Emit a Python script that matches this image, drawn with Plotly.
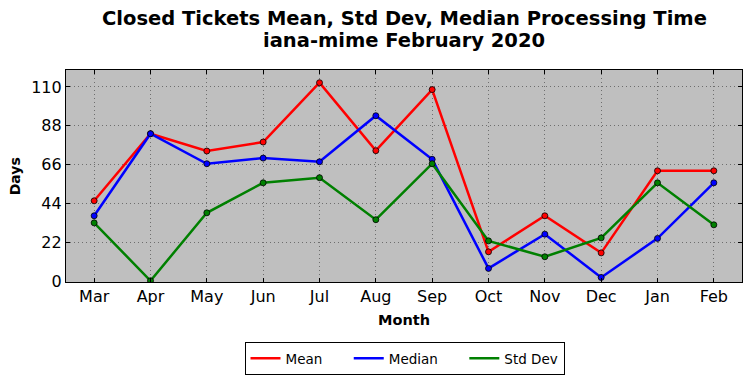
import plotly.graph_objects as go

months = ["Mar", "Apr", "May", "Jun", "Jul", "Aug", "Sep", "Oct", "Nov", "Dec", "Jan", "Feb"]
mean_vals = [45.5, 83.5, 73.7, 78.8, 112.4, 73.9, 108.5, 16.6, 37.0, 16.0, 62.5, 62.5]
median_vals = [37.0, 83.5, 66.5, 69.7, 67.6, 93.7, 69.0, 7.2, 26.6, 2.1, 24.2, 55.7]
std_vals = [33.0, 0.2, 38.7, 55.7, 58.6, 34.8, 66.5, 22.8, 13.8, 24.5, 55.7, 31.9]
y_ticks = [0, 22, 44, 66, 88, 110]

series = [("Mean", mean_vals, "red"), ("Median", median_vals, "blue"), ("Std Dev", std_vals, "green")]
pad = "\u00a0" * 5
legend_names = ["Mean" + pad, "Median" + pad, "Std Dev"]

fig = go.Figure()
x_idx = list(range(len(months)))
for name, vals, col in series:
    fig.add_trace(go.Scatter(
        x=x_idx, y=vals, name=name, mode="lines+markers", showlegend=False,
        line=dict(color=col, width=2.5),
        marker=dict(size=6, color=col, line=dict(color="black", width=0.8)),
    ))
for (name, vals, col), lname in zip(series, legend_names):
    fig.add_trace(go.Scatter(
        x=[None], y=[None], name=lname, mode="lines", showlegend=True,
        line=dict(color=col, width=2.5),
    ))

fig.update_layout(
    width=752, height=378,
    margin=dict(l=66, r=10, t=70, b=96, autoexpand=False),
    paper_bgcolor="white", plot_bgcolor="#bfbfbf",
    font=dict(family="DejaVu Sans", color="black"),
    showlegend=True,
    legend=dict(
        orientation="h", xref="container", yref="container",
        x=404.5 / 752, xanchor="center", y=(378 - 342) / 378, yanchor="top",
        bordercolor="black", borderwidth=1, font=dict(size=13.5),
        itemwidth=30,
    ),
    annotations=[
        dict(text="<b>Closed Tickets Mean, Std Dev, Median Processing Time</b>",
             xref="paper", yref="paper", x=0.5, y=1.2406, showarrow=False,
             xanchor="center", yanchor="middle", font=dict(size=19.5)),
        dict(text="<b>iana-mime February 2020</b>",
             xref="paper", yref="paper", x=0.5, y=1.1368, showarrow=False,
             xanchor="center", yanchor="middle", font=dict(size=19.5)),
        dict(text="<b>Month</b>", xref="paper", yref="paper", x=0.5, y=-0.179,
             showarrow=False, xanchor="center", yanchor="middle", font=dict(size=14.5)),
        dict(text="<b>Days</b>", xref="paper", yref="paper", x=-0.075, y=0.5,
             showarrow=False, xanchor="center", yanchor="middle", textangle=-90,
             font=dict(size=14)),
    ],
)
fig.update_xaxes(
    range=[-0.5, 11.5], tickmode="array", tickvals=x_idx, ticktext=months,
    tickfont=dict(size=16), showgrid=True, gridcolor="#6e6e6e", griddash="1px,3px", gridwidth=1,
    showline=True, linecolor="black", linewidth=1.2, mirror="ticks",
    ticks="inside", ticklen=4, tickcolor="black", zeroline=False, automargin=False,
)
fig.update_yaxes(
    range=[-0.5, 119.6], tickmode="array", tickvals=y_ticks,
    tickfont=dict(size=16), showgrid=True, gridcolor="#6e6e6e", griddash="1px,3px", gridwidth=1,
    showline=True, linecolor="black", linewidth=1.2, mirror="ticks",
    ticks="inside", ticklen=4, tickcolor="black", zeroline=False, automargin=False,
)
fig.write_html("out.html", config={"displayModeBar": False})

with open("out.html", "r", encoding="utf-8") as f:
    html = f.read()
html = html.replace("<head>", "<head><style>html,body{margin:0;padding:0;overflow:hidden;}</style>", 1)
with open("out.html", "w", encoding="utf-8") as f:
    f.write(html)
